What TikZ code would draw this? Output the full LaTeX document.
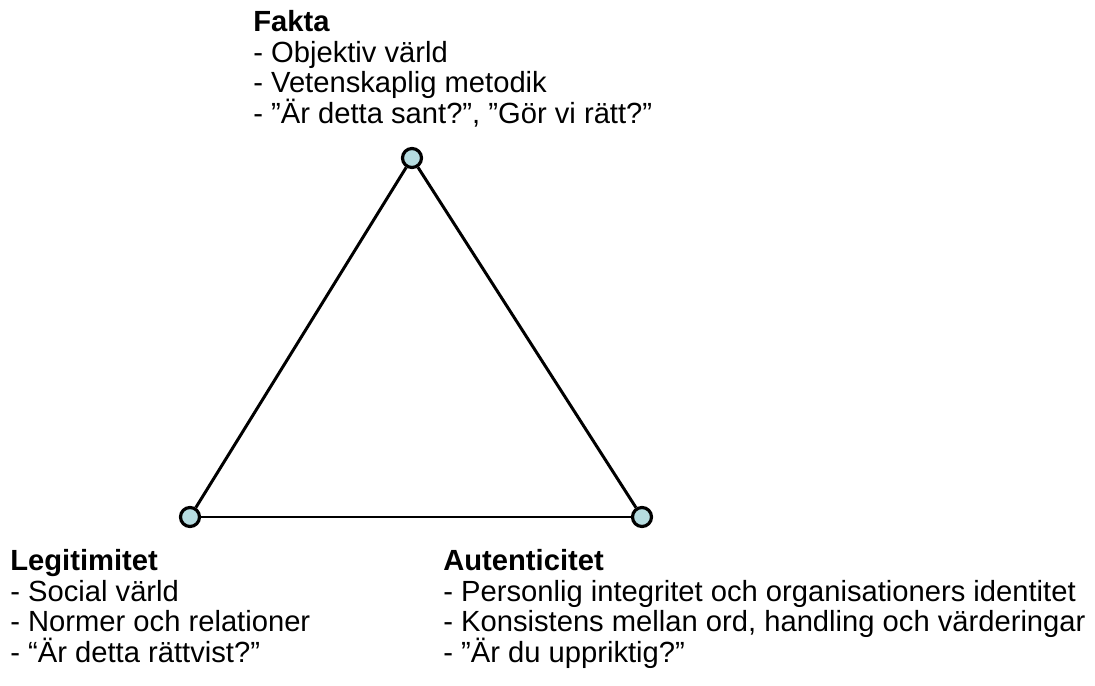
\documentclass[tikz,border=0pt]{standalone}
\usepackage{fontspec}
\setmainfont{Liberation Sans}
\usetikzlibrary{positioning}

\definecolor{vertexfill}{RGB}{182,220,224}
\newcommand{\blockfont}{\fontsize{16.6}{17.4}\selectfont\lineskiplimit=-20pt\relax\lineskip=0pt\relax}

\tikzset{
    vertex/.style={circle, draw, line width=1.8pt, fill=vertexfill, minimum size=0.38cm, inner sep=0pt},
    side/.style={line width=1.7pt},
    block/.style={align=left, anchor=north west, inner sep=0pt, font=\blockfont}
}

\begin{document}
\begin{tikzpicture}
    \useasboundingbox (0,0) rectangle (21.9,13.7);

    % Corners of the triangle
    \node[vertex] (fakta)  at (8.24,10.54) {};
    \node[vertex] (legit)  at (3.80,3.36) {};
    \node[vertex] (autent) at (12.84,3.36) {};

    % Sides
    \draw[side] (fakta) -- (legit);
    \draw[side] (legit) -- (autent);
    \draw[side] (autent) -- (fakta);

    % Labels
    \node[block] (faktatext) at (5.06,13.5) {\textbf{Fakta}\\- Objektiv värld\\- Vetenskaplig metodik\\- ”Är detta sant?”, ”Gör vi rätt?”};
    \node[block] (legittext) at (0.2,2.72) {\textbf{Legitimitet}\\- Social värld\\- Normer och relationer\\- “Är detta rättvist?”};
    \node[block] (autenttext) at (8.86,2.72) {\textbf{Autenticitet}\\- Personlig integritet och organisationers identitet\\- Konsistens mellan ord, handling och värderingar\\- ”Är du uppriktig?”};
\end{tikzpicture}
\end{document}
